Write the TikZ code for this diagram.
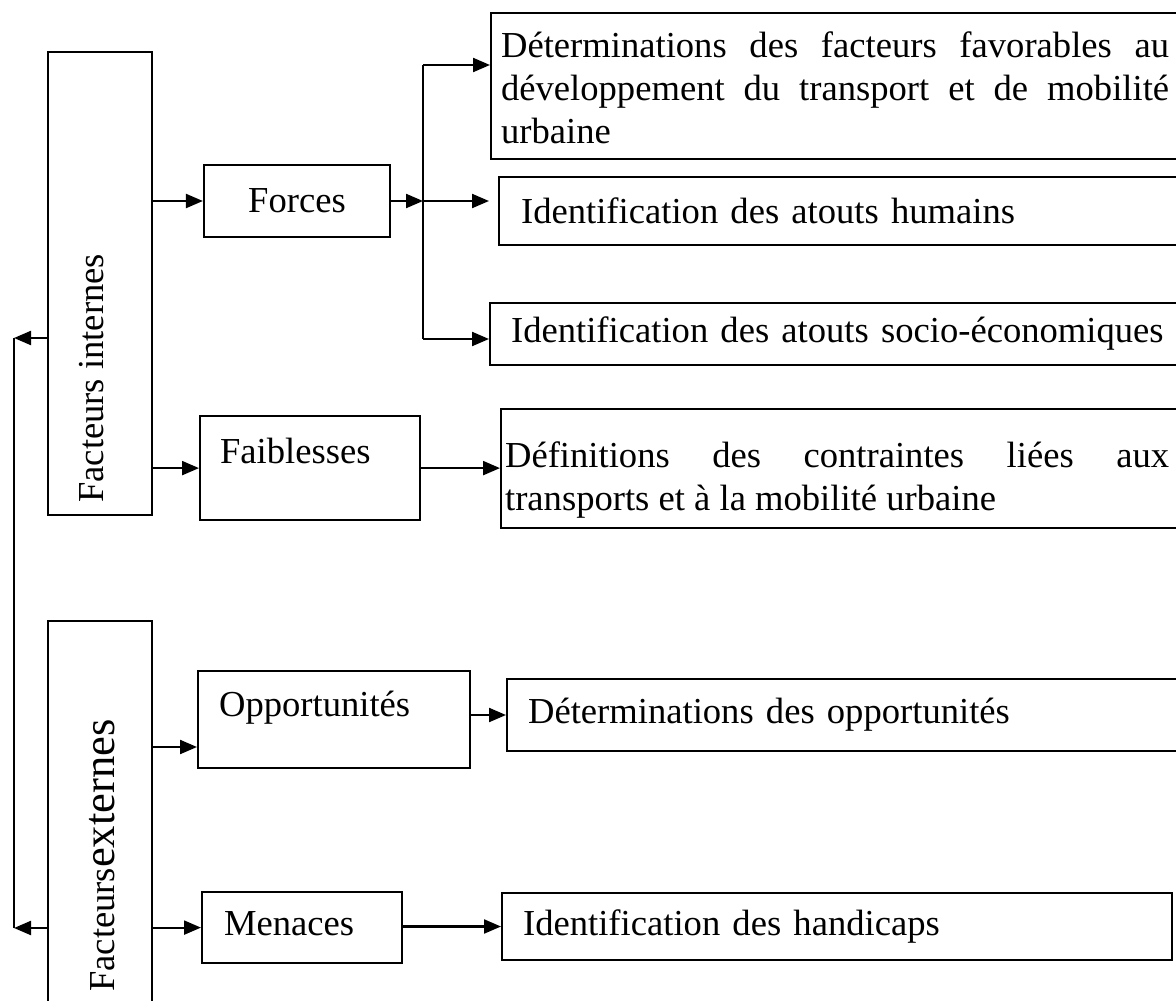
\documentclass[tikz,border=0pt]{standalone}
\usepackage{fontspec}
\setmainfont{Liberation Serif}
\usetikzlibrary{arrows.meta}
\begin{document}
\begin{tikzpicture}[x=1pt,y=-1pt,
  every node/.style={font=\fontsize{36.6}{43}\selectfont},
  box/.style={draw, line width=2.2pt, inner ysep=0pt},
  arr/.style={line width=2.2pt, -{Triangle[length=17pt,width=14pt]}},
  ln/.style={line width=2.2pt}]
\useasboundingbox (0,0) rectangle (1176,1001);

% left column boxes
\node[box, minimum width=104pt, minimum height=463pt] (intern) at (100,283.5) {};
\node[box, minimum width=104pt, minimum height=391pt] (ext) at (100,816.5) {};
\node[inner sep=0pt, rotate=90, anchor=base west] (interntxt) at (103,503) {Facteurs internes};
\node[inner sep=0pt, rotate=90, anchor=base west] (exttxt) at (114,992) {Facteurs{\fontsize{44.6}{50}\selectfont externes}};

% middle column
\node[box, minimum width=186pt, minimum height=72pt] (forces) at (297,201) {Forces};
\node[box, anchor=north west, inner xsep=20pt, text width=180pt, align=left, text height=47pt, text depth=57pt] (faib) at (199,415) {Faiblesses};
\node[box, anchor=north west, inner xsep=21pt, text width=230pt, align=left, text height=45pt, text depth=52pt] (opp) at (197,670) {Opportunités};
\node[box, anchor=north west, inner xsep=22pt, text width=156pt, align=left, text height=43pt, text depth=28pt] (men) at (201,891) {Menaces};

% right column
\node[box, anchor=north west, inner xsep=10pt, text width=668pt, align=justify, text height=44pt, text depth=102pt] (detfac) at (490,12)
  {\hyphenpenalty=10000 Déterminations des facteurs favorables au\linebreak développement du transport et de mobilité\linebreak urbaine};
\node[box, anchor=west, inner xsep=22pt, minimum height=68pt, text width=700pt, align=left] (hum) at (498,211) {Identification des atouts humains};
\node[box, anchor=west, inner xsep=21pt, minimum height=62pt, text width=700pt, align=left] (soc) at (489,334) {Identification des atouts socio-économiques};
\node[box, anchor=north west, inner xsep=4pt, text width=672pt, align=justify, text height=58pt, text depth=61pt] (def) at (500,408)
  {\hyphenpenalty=10000 Définitions des contraintes liées aux\hspace*{8pt}\linebreak transports et à la mobilité urbaine};
\node[box, anchor=west, inner xsep=21pt, minimum height=72pt, text width=700pt, align=left] (detopp) at (506,715) {Déterminations des opportunités};
\node[box, anchor=west, inner xsep=21pt, minimum height=67pt, text width=628pt, align=left] (hand) at (501,926.5) {Identification des handicaps};

% coordinates
\coordinate (br) at (423,201);
\coordinate (b1) at (423,65);
\coordinate (b3) at (423,339);
\coordinate (fb1) at (14,338);
\coordinate (fb2) at (14,928);
\coordinate (oppin) at (197,747);

% connectors
\draw[arr] (forces.west -| intern.east) -- (forces.west);
\draw[arr] (forces.east) -- (br);
\draw[ln] (b1) -- (b3);
\draw[arr] (b1) -- (b1 -| detfac.west);
\draw[arr] (br) -- (br -| soc.west);
\draw[arr] (b3) -- (b3 -| soc.west);
\draw[arr] (faib.west -| intern.east) -- (faib.west);
\draw[arr] (faib.east) -- (faib.east -| def.west);
\draw[arr] (oppin -| ext.east) -- (oppin);
\draw[arr] (opp.east |- detopp.west) -- (detopp.west);
\draw[arr] (men.west -| ext.east) -- (men.west);
\draw[arr] (men.east |- hand.west) -- (hand.west);
\draw[arr] (fb1 -| intern.west) -- (fb1);
\draw[arr] (fb2 -| ext.west) -- (fb2);
\draw[ln] (fb1) -- (fb2);
\end{tikzpicture}
\end{document}
